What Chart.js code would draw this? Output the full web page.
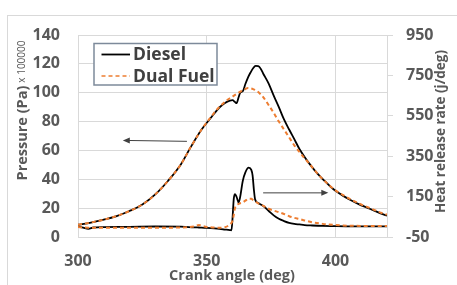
<!DOCTYPE html>
<html>
<head>
<meta charset="utf-8">
<script src="https://cdn.jsdelivr.net/npm/chart.js@4.4.1/dist/chart.umd.min.js"></script>
<style>
  html, body { margin: 0; padding: 0; background: #fff; }
</style>
</head>
<body>
<canvas id="motor" width="457" height="285"></canvas>
<script>
// crank angle (deg) for the pressure curves
const pCrank = [300, 305, 310, 315, 320, 325, 330, 335, 340, 344, 348, 352, 354, 356, 358, 359, 360, 361, 361.6, 362.4, 363, 364, 365, 366, 367, 368, 369, 370, 371, 372, 374, 376, 378, 380, 382, 384, 386, 388, 390, 392, 394, 396, 398, 400, 403, 406, 409, 412, 415, 418, 420];
// pressure (Pa x 100000)
const dieselP = [8.5, 10, 12, 14.5, 18, 22.5, 29.5, 39, 50.5, 63, 74.5, 83.5, 88, 91.5, 93.8, 94.5, 94.8, 93.5, 92.8, 97, 100, 101, 106, 110.5, 114, 117, 118.6, 118.5, 116.5, 113, 106.5, 98, 90, 81.5, 74.5, 67.8, 61, 55.5, 50.5, 46, 42, 38.5, 35, 32, 28.5, 25.5, 22.8, 20.5, 18.3, 16, 14.8];
const dualP = [8.5, 10, 12, 14.5, 18, 22.5, 29.5, 39, 50.5, 63, 74.5, 84, 88.5, 92, 95, 96.2, 97.3, 98.5, 99.2, 100, 100.7, 101.8, 102.6, 103.2, 103, 102.5, 101.7, 100.5, 98.8, 96.8, 91.5, 86, 80, 74.5, 69, 63.5, 59, 54.5, 50.5, 46, 42, 38.5, 35.2, 32.3, 29, 26, 23.3, 21, 18.8, 16.6, 15.5];

// crank angle (deg) for the heat release curves
const hCrank = [300, 302, 304, 306, 310, 320, 330, 340, 345, 347, 348, 350, 355, 357, 359, 359.6, 360, 360.5, 361, 361.6, 362.4, 363, 364, 365, 366.3, 367.3, 367.8, 368.3, 368.8, 370, 372, 374, 376, 378, 380, 382, 384, 386, 388, 391, 395, 399, 405, 410, 420];
// heat release rate (j/deg)
const dieselH = [2, -4, -10, -3, -1, 0, 2, 1, -2, -3, -3.5, -5, -10, -13, -16, -17, 40, 140, 162, 148, 121, 150, 228, 270, 293, 282, 255, 185, 135, 118, 103, 80, 57, 40, 29, 20, 15, 12, 9, 7, 5, 4, 3, 3, 3];
const dualH = [-1, -3, -4, -4, -4, -4, -4, -3, 2, 9, 6, 0, -4, -2, 12, 20, 30, 60, 95, 108, 114, 117, 121, 130, 140, 139, 135, 131, 127, 116, 104, 90, 81, 73, 64, 53, 45, 39, 32, 23, 15, 10, 6, 5, 5];

const xTicks = [300, 350, 400];
const pTicks = [0, 20, 40, 60, 80, 100, 120, 140];
const hTicks = [-50, 150, 350, 550, 750, 950];

const gris = '#595959';
const fuente = '"Open Sans", "Liberation Sans", sans-serif';

function puntos(xs, ys) {
  return xs.map((x, i) => ({ x: x, y: ys[i] }));
}

const decoracion = {
  id: 'decoracion',
  beforeDraw(chart) {
    const ctx = chart.ctx;
    ctx.save();
    ctx.strokeStyle = '#d9d9d9';
    ctx.lineWidth = 1;
    ctx.strokeRect(7.5, 15.5, 460, 280);
    ctx.restore();
  },
  afterDatasetsDraw(chart) {
    const ctx = chart.ctx;
    const sx = chart.scales.x, sy = chart.scales.y, sh = chart.scales.y1;

    // flechas
    ctx.save();
    ctx.strokeStyle = '#404040';
    ctx.fillStyle = '#404040';
    ctx.lineWidth = 1;
    const flecha = (x1, y1, x2, y2) => {
      const dir = Math.sign(x2 - x1);
      ctx.beginPath();
      ctx.moveTo(x1, y1);
      ctx.lineTo(x2 - dir * 5, y2);
      ctx.stroke();
      ctx.beginPath();
      ctx.moveTo(x2, y2);
      ctx.lineTo(x2 - dir * 7, y2 - 3);
      ctx.lineTo(x2 - dir * 7, y2 + 3);
      ctx.closePath();
      ctx.fill();
    };
    flecha(sx.getPixelForValue(342.3), sy.getPixelForValue(66.3), sx.getPixelForValue(317.4), sy.getPixelForValue(66.9));
    flecha(sx.getPixelForValue(371.9), sh.getPixelForValue(168.5), sx.getPixelForValue(397.2), sh.getPixelForValue(168.5));
    ctx.restore();

    // leyenda
    ctx.save();
    ctx.fillStyle = '#fff';
    ctx.fillRect(94, 43.5, 123, 41.5);
    ctx.strokeStyle = '#7d8a9a';
    ctx.lineWidth = 1.5;
    ctx.strokeRect(94, 43.5, 123, 41.5);
    [0, 1].forEach(i => {
      const ds = chart.data.datasets[i];
      const y = 54.5 + i * 21.5;
      ctx.beginPath();
      ctx.strokeStyle = ds.borderColor;
      ctx.lineWidth = i === 0 ? 1.8 : 1.5;
      ctx.setLineDash(ds.borderDash || []);
      ctx.moveTo(101.5, y);
      ctx.lineTo(130, y);
      ctx.stroke();
      ctx.setLineDash([]);
      ctx.fillStyle = '#404040';
      ctx.font = 'bold 17.5px ' + fuente;
      ctx.textBaseline = 'middle';
      ctx.textAlign = 'left';
      ctx.fillText(ds.label, 133, y + 1);
    });
    ctx.restore();
  },
  afterDraw(chart) {
    const ctx = chart.ctx;
    ctx.save();
    ctx.fillStyle = gris;

    // titulo eje x
    ctx.font = 'bold 14.5px ' + fuente;
    ctx.textAlign = 'center';
    ctx.textBaseline = 'alphabetic';
    ctx.fillText('Crank angle (deg)', 232, 280);

    // titulo eje izquierdo
    ctx.save();
    ctx.translate(26.5, 0);
    ctx.rotate(-Math.PI / 2);
    ctx.textAlign = 'left';
    ctx.font = 'bold 14.5px ' + fuente;
    const t1 = 'Pressure (Pa)';
    const w1 = ctx.measureText(t1).width;
    ctx.font = '10px ' + fuente;
    const t2 = 'x 100000';
    const w2 = ctx.measureText(t2).width;
    const inicio = -110.5 - (w1 + 3 + w2) / 2;
    ctx.font = 'bold 14.5px ' + fuente;
    ctx.fillText(t1, inicio, 0);
    ctx.font = '10px ' + fuente;
    ctx.fillText(t2, inicio + w1 + 3, -2);
    ctx.restore();

    // titulo eje derecho
    ctx.save();
    ctx.translate(445, 131.5);
    ctx.rotate(-Math.PI / 2);
    ctx.textAlign = 'center';
    ctx.font = 'bold 13.5px ' + fuente;
    ctx.fillText('Heat release rate (j/deg)', 0, 0);
    ctx.restore();

    ctx.restore();
  }
};

new Chart(document.getElementById('motor'), {
  type: 'line',
  data: {
    datasets: [{
      label: 'Diesel',
      data: puntos(pCrank, dieselP),
      yAxisID: 'y',
      borderColor: '#000000',
      borderWidth: 1.8,
      order: 1
    }, {
      label: 'Dual Fuel',
      data: puntos(pCrank, dualP),
      yAxisID: 'y',
      borderColor: '#ED7D31',
      borderDash: [4, 3],
      borderWidth: 2,
      order: 0
    }, {
      label: 'Diesel HRR',
      data: puntos(hCrank, dieselH),
      yAxisID: 'y1',
      borderColor: '#000000',
      borderWidth: 1.8,
      order: 1
    }, {
      label: 'Dual Fuel HRR',
      data: puntos(hCrank, dualH),
      yAxisID: 'y1',
      borderColor: '#ED7D31',
      borderDash: [4, 3],
      borderWidth: 2,
      order: 0
    }]
  },
  options: {
    responsive: false,
    animation: false,
    layout: { padding: { top: 35, left: 0, right: 0, bottom: 0 } },
    plugins: {
      legend: { display: false },
      tooltip: { enabled: false }
    },
    elements: {
      point: { radius: 0 },
      line: { cubicInterpolationMode: 'monotone', fill: false }
    },
    scales: {
      x: {
        type: 'linear',
        min: 300,
        max: 420,
        afterBuildTicks: s => { s.ticks = xTicks.map(v => ({ value: v })); },
        afterFit: s => { s.height = 48; },
        grid: { color: '#d9d9d9', drawTicks: false },
        border: { display: false },
        ticks: { padding: 15, maxRotation: 0, color: gris, font: { family: fuente, size: 16, weight: 'bold' } }
      },
      y: {
        position: 'left',
        min: 0,
        max: 140,
        afterBuildTicks: s => { s.ticks = pTicks.map(v => ({ value: v })); },
        afterFit: s => { s.width = 78; },
        grid: { color: '#d9d9d9', drawTicks: false },
        border: { display: false },
        ticks: { padding: 18, color: gris, font: { family: fuente, size: 16, weight: 'bold' } }
      },
      y1: {
        position: 'right',
        min: -50,
        max: 950,
        afterBuildTicks: s => { s.ticks = hTicks.map(v => ({ value: v })); },
        afterFit: s => { s.width = 70; },
        grid: { drawOnChartArea: false, color: '#d9d9d9', tickLength: 6 },
        border: { color: '#d9d9d9' },
        ticks: { padding: 13, color: gris, font: { family: fuente, size: 16, weight: 'bold' } }
      }
    }
  },
  plugins: [decoracion]
});
</script>
</body>
</html>
